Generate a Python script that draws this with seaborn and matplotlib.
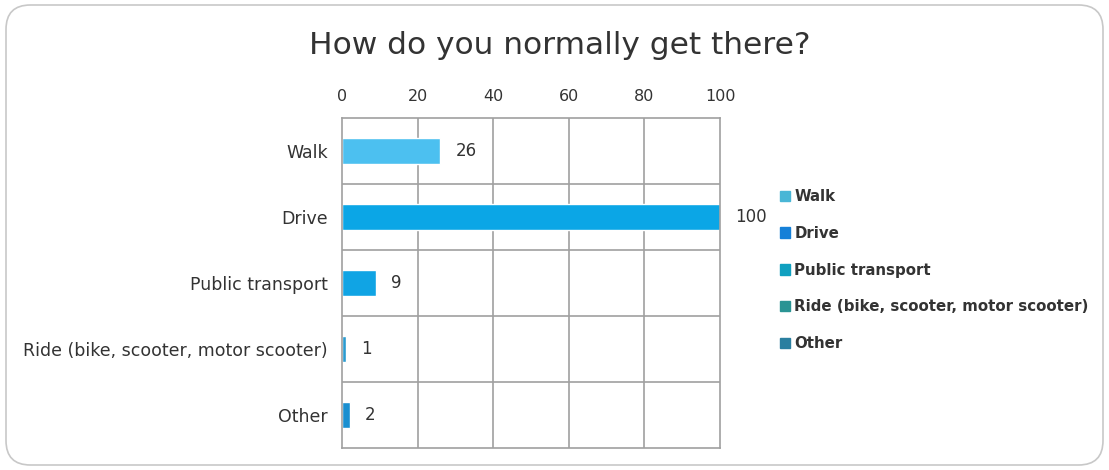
import matplotlib

matplotlib.use("Agg")
import matplotlib.pyplot as plt
import pandas as pd
import seaborn as sns
from matplotlib.patches import FancyBboxPatch, Patch

# data
CATEGORIES = ["Walk", "Drive", "Public transport", "Ride (bike, scooter, motor scooter)", "Other"]
VALUES = [26, 100, 9, 1, 2]
X_TICKS = [0, 20, 40, 60, 80, 100]
TITLE = "How do you normally get there?"

BAR_COLORS = ["#4cc0f0", "#0ba6e6", "#10a4e4", "#2a9bd0", "#1a8fd0"]
LEGEND_COLORS = ["#49b6d6", "#1580d8", "#10a0c0", "#2a9494", "#2a7fa0"]
TEXT = "#333333"
GRID = "#a0a0a0"

sns.set_theme(style="white")
plt.rcParams["font.family"] = ["DejaVu Sans"]

df = pd.DataFrame({"mode": CATEGORIES, "count": VALUES})

fig = plt.figure(figsize=(11.09, 4.70), dpi=100)
ax = fig.add_axes([342 / 1109, 1 - 448 / 470, (720 - 342) / 1109, (448 - 118) / 470])

sns.barplot(
    data=df,
    x="count",
    y="mode",
    hue="mode",
    palette=BAR_COLORS,
    saturation=1,
    order=CATEGORIES,
    hue_order=CATEGORIES,
    width=0.4,
    legend=False,
    ax=ax,
)

ax.set_xlim(0, 100)
ax.set_ylim(len(CATEGORIES) - 0.5, -0.5)
ax.set_xticks(X_TICKS)
ax.xaxis.tick_top()
ax.tick_params(axis="x", length=0, pad=10, labelsize=11.5, colors=TEXT)
ax.tick_params(axis="y", length=0, pad=10, labelsize=12.5, colors=TEXT)
ax.set_xlabel("")
ax.set_ylabel("")

for x in X_TICKS[1:-1]:
    ax.axvline(x, color=GRID, lw=1.2, zorder=0)
for i in range(len(CATEGORIES) - 1):
    ax.axhline(i + 0.5, color=GRID, lw=1.2, zorder=0)
for s in ax.spines.values():
    s.set_color(GRID)
    s.set_linewidth(1.2)

for i, v in enumerate(VALUES):
    ax.annotate(
        str(v), (v, i), xytext=(11, 0), textcoords="offset points",
        va="center", ha="left", fontsize=12, color=TEXT, annotation_clip=False,
    )

fig.text(560 / 1109, 1 - 45 / 470, TITLE, ha="center", va="center", fontsize=22.5, color=TEXT)

handles = [Patch(facecolor=c, edgecolor=c, label=l) for c, l in zip(LEGEND_COLORS, CATEGORIES)]
fig.legend(
    handles=handles,
    loc="center left",
    bbox_to_anchor=(766 / 1109, 1 - 270 / 470),
    frameon=False,
    prop={"size": 10.8, "weight": "semibold"},
    labelcolor=TEXT,
    handlelength=0.7,
    handleheight=0.7,
    handletextpad=0.3,
    labelspacing=1.45,
)

border = FancyBboxPatch(
    (6 / 1109, 5 / 470), 1 - 12 / 1109, 1 - 10 / 470,
    boxstyle="round,pad=0,rounding_size=0.022",
    transform=fig.transFigure, facecolor="none", edgecolor="#c8c8c8", lw=1.2,
    mutation_aspect=1109 / 470,
)
fig.patches.append(border)

fig.savefig("out.png", dpi=100)
